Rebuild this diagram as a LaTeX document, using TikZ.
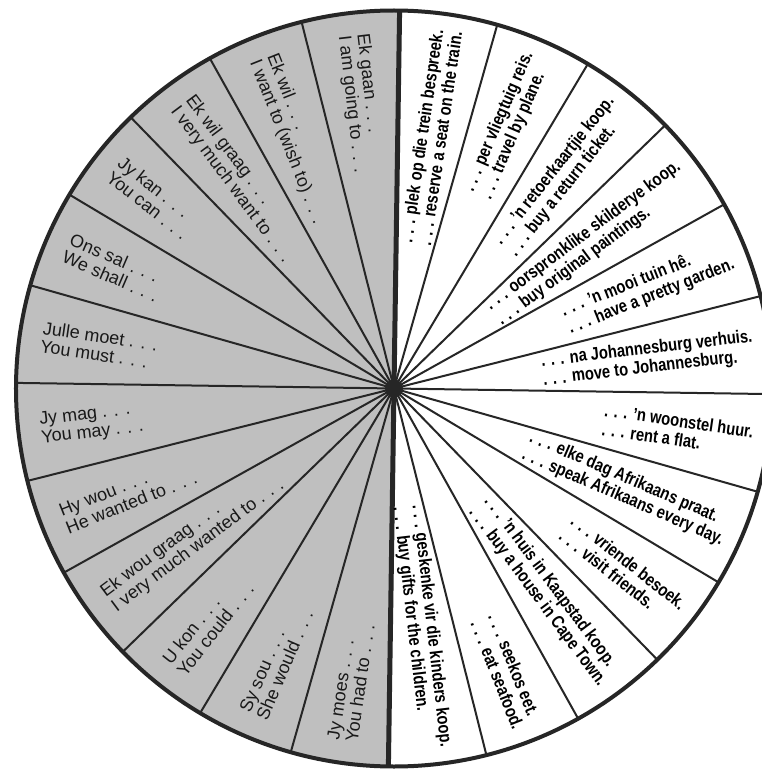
\documentclass[tikz,border=0pt]{standalone}
\usepackage{fontspec}
\setmainfont{Liberation Sans}
\newfontfamily\narrowbold{Liberation Sans}[FakeStretch=0.82]

\begin{document}
\begin{tikzpicture}[x=1pt,y=1pt,
		rim/.style={line width=4pt,draw=black!85},
		spoke/.style={line width=2pt,draw=black!85},
		divider/.style={line width=5pt,draw=black!85},
		graytext/.style={anchor=west,align=left,inner sep=0pt,text=black!90,
			font=\fontsize{18}{18.5}\selectfont},
		whitetext/.style={anchor=east,align=left,inner sep=0pt,text=black,
			font=\narrowbold\bfseries\fontsize{18}{19}\selectfont}]
		% Page as large as the scan, the wheel runs off the right edge
		\clip (-394,-385.5) rectangle (368,388.5);
		\fill[white] (-394,-385.5) rectangle (368,388.5);
		
		% Hub and the ends of the middle line
		\coordinate (hub) at (0,0);
		\coordinate (top) at (89.15:378);
		\coordinate (bottom) at (269.15:378);
		
		% Grey left half of the wheel
		\fill[black!25] (hub) -- (top) arc[start angle=89.15,end angle=269.15,radius=378pt] -- cycle;
		
		% Spokes every 15 degrees
		\foreach \a in {0,15,...,345}
			\draw[spoke] (hub) -- ({\a-0.85}:378);
		
		% Thick middle line, rim and hub
		\draw[divider] (top) -- (bottom);
		\draw[rim] (hub) circle[radius=378pt];
		\fill[black!85] (hub) circle[radius=9pt];
		
		% Beginnings of the sentences (grey half)
		\node[graytext,rotate=-83.35] (l1) at (96.65:356) {Ek gaan . . .\\I am going to . . .};
		\node[graytext,rotate=-68.35] (l2) at (111.65:356) {Ek wil . . .\\I want to (wish to) . . .};
		\node[graytext,rotate=-53.35] (l3) at (126.65:356) {Ek wil graag . . .\\I very much want to . . .};
		\node[graytext,rotate=-38.35] (l4) at (141.65:356) {Jy kan . . .\\You can . . .};
		\node[graytext,rotate=-23.35] (l5) at (156.65:356) {Ons sal . . .\\We shall . . .};
		\node[graytext,rotate=-8.35] (l6) at (171.65:356) {Julle moet . . .\\You must . . .};
		\node[graytext,rotate=6.65] (l7) at (186.65:356) {Jy mag . . .\\You may . . .};
		\node[graytext,rotate=21.65] (l8) at (201.65:356) {Hy wou . . .\\He wanted to . . .};
		\node[graytext,rotate=36.65] (l9) at (216.65:356) {Ek wou graag . . .\\I very much wanted to . . .};
		\node[graytext,rotate=51.65] (l10) at (231.65:356) {U kon . . .\\You could . . .};
		\node[graytext,rotate=66.65] (l11) at (246.65:356) {Sy sou . . .\\She would . . .};
		\node[graytext,rotate=81.65] (l12) at (261.65:356) {Jy moes . . .\\You had to . . .};
		
		% Endings of the sentences (white half)
		\node[whitetext,rotate=81.65] (r1) at (81.65:362) {. . . plek op die trein bespreek.\\. . . reserve a seat on the train.};
		\node[whitetext,rotate=66.65] (r2) at (66.65:362) {. . . per vliegtuig reis.\\. . . travel by plane.};
		\node[whitetext,rotate=51.65] (r3) at (51.65:362) {. . . ’n retoerkaartjie koop.\\. . . buy a return ticket.};
		\node[whitetext,rotate=36.65] (r4) at (36.65:362) {. . . oorspronklike skilderye koop.\\. . . buy original paintings.};
		\node[whitetext,rotate=21.65] (r5) at (21.65:362) {. . . ’n mooi tuin hê.\\. . . have a pretty garden.};
		\node[whitetext,rotate=6.65] (r6) at (6.65:362) {. . . na Johannesburg verhuis.\\. . . move to Johannesburg.};
		\node[whitetext,rotate=-8.35] (r7) at (-8.35:362) {. . . ’n woonstel huur.\\. . . rent a flat.};
		\node[whitetext,rotate=-23.35] (r8) at (-23.35:362) {. . . elke dag Afrikaans praat.\\. . . speak Afrikaans every day.};
		\node[whitetext,rotate=-38.35] (r9) at (-38.35:362) {. . . vriende besoek.\\. . . visit friends.};
		\node[whitetext,rotate=-53.35] (r10) at (-53.35:362) {. . . ’n huis in Kaapstad koop.\\. . . buy a house in Cape Town.};
		\node[whitetext,rotate=-68.35] (r11) at (-68.35:362) {. . . seekos eet.\\. . . eat seafood.};
		\node[whitetext,rotate=-83.35] (r12) at (-83.35:362) {. . . geskenke vir die kinders koop.\\. . . buy gifts for the children.};
	\end{tikzpicture}
\end{document}
